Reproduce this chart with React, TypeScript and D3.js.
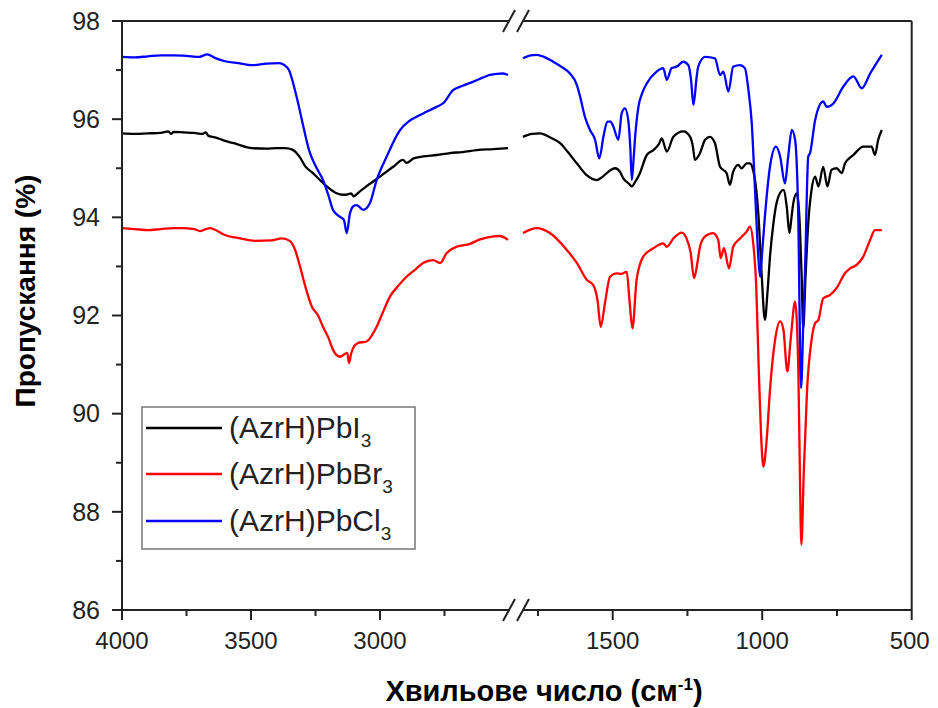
import React from "react";
import * as d3 from "d3";

// IR transmission spectra, [wavenumber cm^-1, transmission %]
// High-wavenumber window (4000–2500 cm^-1)
const pbI3High: [number, number][] = [
  [4000, 95.71], [3950, 95.7], [3900, 95.71], [3850, 95.72], [3820, 95.75], [3810, 95.7], [3800, 95.74],
  [3760, 95.73], [3720, 95.72], [3690, 95.7], [3675, 95.73], [3665, 95.66], [3640, 95.63], [3612, 95.58],
  [3560, 95.5], [3496, 95.41], [3440, 95.4], [3400, 95.41], [3368, 95.41], [3340, 95.38], [3310, 95.22],
  [3291, 95.05], [3260, 94.9], [3206, 94.63], [3168, 94.49], [3143, 94.46], [3125, 94.47], [3112, 94.49],
  [3103, 94.43], [3080, 94.52], [3053, 94.63], [3000, 94.83], [2949, 95.03], [2911, 95.17], [2897, 95.11],
  [2870, 95.2], [2833, 95.24], [2780, 95.27], [2729, 95.31], [2680, 95.33], [2625, 95.37], [2560, 95.39],
  [2504, 95.41],
];

const pbBr3High: [number, number][] = [
  [4000, 93.78], [3950, 93.76], [3900, 93.74], [3850, 93.76], [3800, 93.78], [3767, 93.78], [3720, 93.76],
  [3698, 93.72], [3675, 93.76], [3659, 93.78], [3630, 93.72], [3601, 93.64], [3550, 93.58], [3484, 93.52],
  [3420, 93.53], [3380, 93.57], [3350, 93.52], [3330, 93.35], [3310, 93.0], [3290, 92.6], [3264, 92.18],
  [3240, 92.0], [3221, 91.77], [3200, 91.55], [3182, 91.3], [3155, 91.16], [3135, 91.22], [3127, 91.24],
  [3120, 91.03], [3112, 91.22], [3104, 91.34], [3085, 91.44], [3052, 91.47], [3013, 91.77], [2990, 92.05],
  [2961, 92.39], [2930, 92.6], [2897, 92.79], [2860, 92.95], [2833, 93.07], [2794, 93.13], [2767, 93.07],
  [2742, 93.27], [2703, 93.4], [2651, 93.46], [2612, 93.55], [2560, 93.61], [2535, 93.62], [2504, 93.54],
];

const pbCl3High: [number, number][] = [
  [4000, 97.27], [3950, 97.26], [3900, 97.28], [3850, 97.3], [3800, 97.3], [3750, 97.29], [3700, 97.27],
  [3670, 97.32], [3640, 97.25], [3600, 97.18], [3550, 97.14], [3496, 97.1], [3440, 97.13], [3392, 97.14],
  [3370, 97.1], [3353, 97.0], [3330, 96.6], [3314, 96.25], [3295, 95.8], [3275, 95.37], [3250, 95.05],
  [3221, 94.76], [3200, 94.45], [3182, 94.15], [3155, 94.01], [3140, 93.95], [3129, 93.68], [3116, 94.09],
  [3100, 94.24], [3090, 94.25], [3065, 94.15], [3039, 94.29], [3013, 94.76], [2974, 95.24], [2922, 95.78],
  [2890, 95.95], [2858, 96.05], [2820, 96.15], [2781, 96.25], [2756, 96.32], [2717, 96.59], [2680, 96.68],
  [2640, 96.76], [2600, 96.85], [2574, 96.9], [2523, 96.93], [2504, 96.9],
];

// Fingerprint window (1800–600 cm^-1)
const pbI3Low: [number, number][] = [
  [1800, 95.64], [1770, 95.7], [1743, 95.71], [1710, 95.63], [1676, 95.51], [1650, 95.33], [1620, 95.1],
  [1587, 94.86], [1553, 94.76], [1535, 94.82], [1520, 94.9], [1492, 95.0], [1475, 94.92], [1465, 94.8],
  [1445, 94.68], [1436, 94.63], [1425, 94.72], [1409, 94.9], [1386, 95.27], [1364, 95.37], [1345, 95.5],
  [1336, 95.61], [1319, 95.34], [1297, 95.64], [1264, 95.75], [1241, 95.64], [1232, 95.45], [1225, 95.17],
  [1208, 95.31], [1191, 95.58], [1175, 95.64], [1158, 95.51], [1141, 95.03], [1119, 94.9], [1108, 94.66],
  [1097, 94.93], [1080, 95.07], [1069, 95.0], [1052, 95.1], [1041, 95.1], [1030, 94.95], [1024, 94.76],
  [1013, 94.08], [1002, 92.86], [991, 91.91], [982, 92.5], [974, 93.2], [962, 93.9], [952, 94.29],
  [940, 94.5], [929, 94.56], [918, 94.22], [909, 93.68], [902, 94.0], [896, 94.29], [885, 94.49],
  [879, 94.3], [874, 93.81], [868, 92.8], [863, 91.74], [855, 92.8], [846, 93.88], [835, 94.56],
  [823, 94.83], [812, 94.63], [796, 95.03], [782, 94.63], [768, 94.97], [751, 95.0], [734, 94.9],
  [723, 95.1], [695, 95.27], [662, 95.44], [634, 95.44], [623, 95.27], [612, 95.58], [600, 95.78],
];

const pbBr3Low: [number, number][] = [
  [1800, 93.68], [1754, 93.78], [1710, 93.68], [1654, 93.34], [1620, 93.07], [1587, 92.73], [1565, 92.62],
  [1551, 92.32], [1540, 91.77], [1526, 92.25], [1509, 92.79], [1487, 92.86], [1470, 92.85], [1453, 92.89],
  [1444, 92.32], [1434, 91.74], [1420, 92.73], [1398, 93.2], [1364, 93.37], [1331, 93.47], [1319, 93.4],
  [1297, 93.57], [1269, 93.69], [1253, 93.57], [1239, 93.27], [1228, 92.76], [1216, 93.1], [1208, 93.4],
  [1191, 93.61], [1164, 93.68], [1147, 93.54], [1139, 93.17], [1128, 93.37], [1111, 92.96], [1097, 93.4],
  [1074, 93.57], [1052, 93.71], [1041, 93.81], [1030, 93.47], [1020, 92.6], [1012, 91.0], [1004, 89.6],
  [996, 88.92], [985, 89.47], [974, 90.48], [957, 91.5], [940, 91.88], [929, 91.71], [916, 90.86],
  [905, 91.5], [890, 92.28], [879, 90.83], [874, 88.79], [869, 87.33], [861, 88.79], [850, 90.48],
  [835, 91.5], [823, 91.84], [812, 91.91], [796, 92.35], [773, 92.42], [751, 92.56], [723, 92.86],
  [706, 92.96], [684, 93.03], [662, 93.2], [639, 93.54], [623, 93.74], [600, 93.74],
];

const pbCl3Low: [number, number][] = [
  [1800, 97.24], [1775, 97.3], [1754, 97.31], [1730, 97.27], [1699, 97.17], [1670, 97.06], [1643, 96.93],
  [1620, 96.7], [1609, 96.46], [1593, 96.05], [1576, 95.78], [1559, 95.58], [1545, 95.2], [1531, 95.64],
  [1518, 95.95], [1507, 95.95], [1498, 95.85], [1481, 95.58], [1470, 96.12], [1459, 96.22], [1448, 95.98],
  [1441, 95.4], [1436, 94.76], [1430, 95.2], [1425, 95.64], [1414, 96.25], [1400, 96.55], [1386, 96.73],
  [1353, 96.97], [1331, 97.04], [1319, 96.8], [1303, 97.04], [1286, 97.07], [1264, 97.17], [1247, 97.1],
  [1238, 96.8], [1230, 96.29], [1219, 96.87], [1214, 97.07], [1191, 97.27], [1158, 97.24], [1141, 96.9],
  [1130, 96.97], [1113, 96.56], [1097, 97.07], [1074, 97.1], [1058, 97.04], [1046, 96.59], [1035, 95.92],
  [1024, 94.56], [1013, 93.2], [1007, 92.79], [1000, 93.3], [991, 94.01], [974, 95.03], [954, 95.44],
  [940, 95.24], [924, 94.69], [913, 95.24], [901, 95.78], [890, 95.58], [880, 94.2], [870, 90.52],
  [862, 92.0], [857, 92.86], [846, 95.24], [840, 95.31], [823, 95.98], [796, 96.36], [784, 96.25],
  [762, 96.32], [729, 96.66], [695, 96.87], [667, 96.63], [639, 96.93], [600, 97.31],
];

const seriesNames = ["PbI", "PbBr", "PbCl"];
const seriesColors = ["#000000", "#ff0000", "#0000ff"];
const highData = [pbI3High, pbBr3High, pbCl3High];
const lowData = [pbI3Low, pbBr3Low, pbCl3Low];

const yTicks = [86, 88, 90, 92, 94, 96, 98];
const yMinorTicks = [87, 89, 91, 93, 95, 97];
const highTicks = [4000, 3500, 3000];
const highMinorTicks = [3750, 3250, 2750];
const lowTicks = [1500, 1000, 500];
const lowMinorTicks = [1750, 1250, 750];

const W = 938;
const H = 708;
const top = 21;
const bottom = 610;
const left = 122;
const right = 911.7;
const breakA = 509;
const breakB = 523;

const FONT = "'Liberation Sans', Arial, Helvetica, sans-serif";

export default function App() {
  const y = d3.scaleLinear().domain([86, 98]).range([bottom, top]);
  const xHigh = d3.scaleLinear().domain([4000, 2500]).range([left, breakA]);
  const xLow = d3.scaleLinear().domain([1800, 500]).range([breakB, right]);

  const lineFor = (x: d3.ScaleLinear<number, number>) =>
    d3
      .line<[number, number]>()
      .x((d) => x(d[0]))
      .y((d) => y(d[1]))
      .curve(d3.curveMonotoneX);

  const highLine = lineFor(xHigh);
  const lowLine = lineFor(xLow);

  const axisStroke = "#222";
  const axisW = 2;

  const slash = (cx: number, cy: number, k: number) => (
    <line
      key={`s-${cx}-${cy}-${k}`}
      x1={cx - 6}
      y1={cy + 11}
      x2={cx + 6}
      y2={cy - 11}
      stroke={axisStroke}
      strokeWidth={axisW}
    />
  );

  const legendRows = [428, 474, 521];

  return (
    <svg
      width={W}
      height={H}
      style={{ position: "absolute", left: 0, top: 0, background: "#fff" }}
      fontFamily={FONT}
    >
      <rect x={0} y={0} width={W} height={H} fill="#fff" />

      {/* spectra */}
      {highData.map((d, i) => (
        <path key={`h${i}`} d={highLine(d) ?? ""} fill="none" stroke={seriesColors[i]} strokeWidth={2.3} strokeLinejoin="round" />
      ))}
      {lowData.map((d, i) => (
        <path key={`l${i}`} d={lowLine(d) ?? ""} fill="none" stroke={seriesColors[i]} strokeWidth={2.3} strokeLinejoin="round" />
      ))}

      {/* frame with axis breaks */}
      <line x1={left} y1={top} x2={left} y2={bottom} stroke={axisStroke} strokeWidth={axisW} />
      <line x1={right} y1={top} x2={right} y2={bottom} stroke={axisStroke} strokeWidth={axisW} />
      <line x1={left} y1={top} x2={breakA} y2={top} stroke={axisStroke} strokeWidth={axisW} />
      <line x1={breakB} y1={top} x2={right} y2={top} stroke={axisStroke} strokeWidth={axisW} />
      <line x1={left - 10} y1={bottom} x2={breakA} y2={bottom} stroke={axisStroke} strokeWidth={axisW} />
      <line x1={breakB} y1={bottom} x2={right} y2={bottom} stroke={axisStroke} strokeWidth={axisW} />
      {slash(breakA, top, 0)}
      {slash(breakB, top, 1)}
      {slash(breakA, bottom, 2)}
      {slash(breakB, bottom, 3)}

      {/* y ticks */}
      {yTicks.map((t) => (
        <g key={`yt${t}`}>
          <line x1={left - 10} x2={left} y1={y(t)} y2={y(t)} stroke={axisStroke} strokeWidth={axisW} />
          <text x={left - 22} y={y(t)} dy="0.35em" textAnchor="end" fontSize={25} fill="#222">
            {t}
          </text>
        </g>
      ))}
      {yMinorTicks.map((t) => (
        <line key={`ym${t}`} x1={left - 6} x2={left} y1={y(t)} y2={y(t)} stroke={axisStroke} strokeWidth={axisW} />
      ))}

      {/* x ticks */}
      {[...highTicks.map((t) => xHigh(t)), ...lowTicks.map((t) => xLow(t))].map((px, i) => (
        <line key={`xt${i}`} x1={px} x2={px} y1={bottom} y2={bottom + 10} stroke={axisStroke} strokeWidth={axisW} />
      ))}
      {[...highMinorTicks.map((t) => xHigh(t)), ...lowMinorTicks.map((t) => xLow(t))].map((px, i) => (
        <line key={`xm${i}`} x1={px} x2={px} y1={bottom} y2={bottom + 6} stroke={axisStroke} strokeWidth={axisW} />
      ))}
      {highTicks.map((t) => (
        <text key={`xl${t}`} x={xHigh(t)} y={649} textAnchor="middle" fontSize={24} fill="#222">
          {t}
        </text>
      ))}
      {lowTicks.map((t) => (
        <text key={`xr${t}`} x={xLow(t) - (t === 500 ? 2 : 0)} y={649} textAnchor="middle" fontSize={24} fill="#222">
          {t}
        </text>
      ))}

      {/* axis titles */}
      <text x={544} y={701} textAnchor="middle" fontSize={29} fontWeight="bold" fill="#000">
        Хвильове число (см<tspan dy={-11} fontSize={17}>-1</tspan>
        <tspan dy={11}>)</tspan>
      </text>
      <text
        transform={`translate(35, 291) rotate(-90)`}
        textAnchor="middle"
        fontSize={28}
        fontWeight="bold"
        fill="#000"
      >
        Пропускання (%)
      </text>

      {/* legend */}
      <rect x={142} y={407} width={273} height={142} fill="#fff" stroke="#777" strokeWidth={1.5} />
      {seriesNames.map((name, i) => (
        <g key={`lg${i}`}>
          <line x1={146} x2={222} y1={legendRows[i]} y2={legendRows[i]} stroke={seriesColors[i]} strokeWidth={2.5} />
          <text x={229} y={legendRows[i] + 10} fontSize={30} fill="#222">
            (AzrH){name}
            <tspan dy={9} fontSize={19}>3</tspan>
          </text>
        </g>
      ))}
    </svg>
  );
}
